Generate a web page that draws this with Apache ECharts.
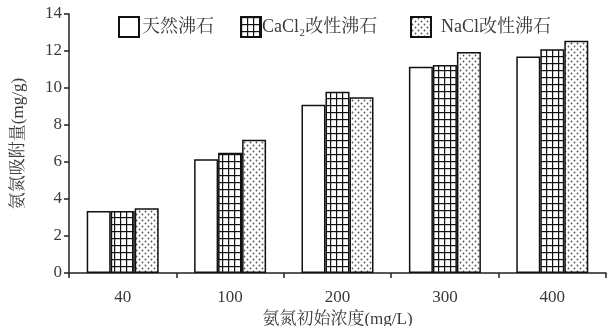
<!DOCTYPE html>
<html><head><meta charset="utf-8">
<script src="https://cdn.jsdelivr.net/npm/echarts@6/dist/echarts.min.js"></script>
<style>html,body{margin:0;padding:0;background:#fff}#c{width:614px;height:326px}</style>
</head><body><div id="c"></div>
<script>
const categories = ['40', '100', '200', '300', '400'];
const seriesNames = ['天然沸石', 'CaCl₂改性沸石', 'NaCl改性沸石'];
const natural = [3.35, 6.15, 9.1, 11.15, 11.7];
const cacl2 = [3.35, 6.5, 9.8, 11.25, 12.1];
const nacl = [3.5, 7.2, 9.5, 11.95, 12.55];
const yTicks = [0, 2, 4, 6, 8, 10, 12, 14];

const FONT = "'Liberation Serif', 'Noto Serif CJK SC', 'Noto Sans CJK SC', serif";
const TXT = '#3a3a3a';

function gridPattern() {
  const c = document.createElement('canvas'); c.width = 6; c.height = 7;
  const g = c.getContext('2d');
  g.fillStyle = '#fff'; g.fillRect(0, 0, 6, 7);
  g.fillStyle = '#111'; g.fillRect(0, 0, 1.2, 7); g.fillRect(0, 0, 6, 1.2);
  return c;
}
function dotPattern() {
  const c = document.createElement('canvas'); c.width = 6; c.height = 6;
  const g = c.getContext('2d');
  g.fillStyle = '#fff'; g.fillRect(0, 0, 6, 6);
  g.fillStyle = '#555';
  g.beginPath(); g.arc(1.5, 1.5, 0.9, 0, Math.PI * 2); g.fill();
  g.beginPath(); g.arc(4.5, 4.5, 0.9, 0, Math.PI * 2); g.fill();
  return c;
}
const fills = ['#fff', { image: gridPattern(), repeat: 'repeat' }, { image: dotPattern(), repeat: 'repeat' }];
const datas = [natural, cacl2, nacl];
const legendLefts = [113, 235, 405];
const legendPads = [-2, -4, 5];

const chart = echarts.init(document.getElementById('c'), null, { renderer: 'canvas' });
chart.setOption({
  animation: false,
  backgroundColor: '#fff',
  legend: seriesNames.map((n, i) => ({
    data: [n], left: legendLefts[i], top: 11, itemWidth: 20, itemHeight: 20, itemGap: 0,
    icon: 'rect', selectedMode: false,
    textStyle: { fontFamily: FONT, fontSize: 18, color: TXT, padding: [0, 0, 0, legendPads[i]] }
  })),
  grid: { left: 69, right: 8, top: 14, bottom: 53, outerBoundsMode: 'none', containLabel: false },
  xAxis: {
    type: 'category', data: categories,
    name: '氨氮初始浓度(mg/L)', nameLocation: 'middle', nameGap: 30,
    nameTextStyle: { fontFamily: FONT, fontSize: 17, color: TXT },
    axisLine: { lineStyle: { color: '#222', width: 1.5 } },
    axisTick: { show: true, length: 5, lineStyle: { color: '#222', width: 1.5 } },
    axisLabel: { fontFamily: FONT, fontSize: 17, color: TXT, margin: 16 }
  },
  yAxis: {
    type: 'value', min: 0, max: 14, interval: 2,
    name: '氨氮吸附量(mg/g)', nameLocation: 'middle', nameGap: 42,
    nameTextStyle: { fontFamily: FONT, fontSize: 17, color: TXT },
    axisLine: { show: true, lineStyle: { color: '#222', width: 1.5 } },
    axisTick: { show: true, length: 5, lineStyle: { color: '#222', width: 1.5 } },
    splitLine: { show: false },
    axisLabel: { fontFamily: FONT, fontSize: 17, color: TXT, margin: 7,
      formatter: v => yTicks.includes(v) ? String(v) : '' }
  },
  series: seriesNames.map((n, i) => ({
    name: n, type: 'bar', data: datas[i], barWidth: 24, barGap: '0%',
    itemStyle: { color: fills[i], borderColor: '#111', borderWidth: 1.5 }
  }))
});
</script></body></html>
